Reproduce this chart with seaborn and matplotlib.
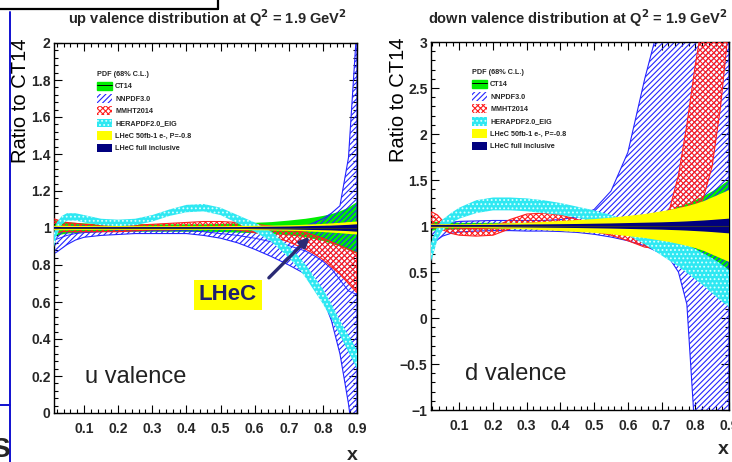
import matplotlib
matplotlib.use("Agg")
import matplotlib.pyplot as plt
from matplotlib.patches import Patch
from matplotlib.lines import Line2D
from matplotlib.ticker import MultipleLocator, FuncFormatter
import pandas as pd
import seaborn as sns

sns.set_theme(style="ticks")
plt.rcParams["font.family"] = ["Liberation Sans", "DejaVu Sans"]
plt.rcParams["hatch.linewidth"] = 0.8
plt.rcParams["axes.unicode_minus"] = True

# ---------------------------------------------------------------- data
X = [0.01, 0.02, 0.035, 0.05, 0.075, 0.1, 0.15, 0.2, 0.25, 0.3, 0.35, 0.4, 0.45,
     0.5, 0.55, 0.6, 0.65, 0.7, 0.725, 0.75, 0.775, 0.8, 0.825, 0.85, 0.875, 0.9]

# up valence, ratio to CT14
U_CT14_LO = [0.955, 0.96, 0.965, 0.97, 0.972, 0.975, 0.978, 0.98, 0.98, 0.98, 0.98, 0.98, 0.98,
             0.978, 0.975, 0.972, 0.968, 0.96, 0.955, 0.95, 0.94, 0.93, 0.915, 0.90, 0.88, 0.86]
U_CT14_HI = [1.045, 1.04, 1.035, 1.03, 1.028, 1.025, 1.022, 1.02, 1.02, 1.02, 1.02, 1.02, 1.02,
             1.022, 1.025, 1.028, 1.032, 1.04, 1.045, 1.05, 1.057, 1.065, 1.075, 1.09, 1.11, 1.14]
U_NNPDF_LO = [0.86, 0.87, 0.89, 0.91, 0.935, 0.95, 0.96, 0.965, 0.97, 0.97, 0.97, 0.97, 0.96,
              0.945, 0.92, 0.885, 0.845, 0.80, 0.775, 0.75, 0.70, 0.62, 0.50, 0.32, 0.05, -0.3]
U_NNPDF_HI = [1.0, 1.0, 1.01, 1.01, 1.01, 1.01, 1.005, 1.0, 1.0, 1.0, 1.0, 1.0, 1.0,
              1.0, 0.995, 0.99, 0.99, 0.995, 1.0, 1.01, 1.03, 1.05, 1.08, 1.12, 1.38, 2.1]
U_NNPDF_MID = [0.93, 0.94, 0.95, 0.96, 0.97, 0.975, 0.98, 0.985, 0.985, 0.985, 0.985, 0.985, 0.98,
               0.97, 0.96, 0.945, 0.925, 0.905, 0.89, 0.875, 0.85, 0.82, 0.78, 0.72, 0.66, 0.64]
U_MMHT_LO = [0.97, 0.975, 0.98, 0.98, 0.98, 0.98, 0.98, 0.98, 0.985, 0.99, 0.99, 0.995, 1.0,
             0.995, 0.99, 0.975, 0.955, 0.925, 0.905, 0.885, 0.86, 0.83, 0.79, 0.75, 0.70, 0.65]
U_MMHT_HI = [1.05, 1.045, 1.035, 1.03, 1.025, 1.02, 1.015, 1.015, 1.015, 1.02, 1.025, 1.03, 1.035,
             1.035, 1.03, 1.02, 1.01, 0.995, 0.985, 0.975, 0.96, 0.945, 0.925, 0.905, 0.885, 0.865]
U_HERA_LO = [0.88, 0.96, 1.02, 1.04, 1.04, 1.03, 1.015, 1.01, 1.015, 1.035, 1.065, 1.085, 1.09,
             1.07, 1.025, 0.98, 0.925, 0.84, 0.79, 0.73, 0.66, 0.59, 0.51, 0.42, 0.33, 0.24]
U_HERA_HI = [0.96, 1.03, 1.065, 1.08, 1.08, 1.07, 1.05, 1.045, 1.05, 1.07, 1.10, 1.125, 1.13,
             1.11, 1.07, 1.03, 0.98, 0.90, 0.855, 0.80, 0.735, 0.67, 0.59, 0.50, 0.42, 0.34]
U_LHEC50_LO = [0.988, 0.988, 0.988, 0.988, 0.989, 0.989, 0.99, 0.99, 0.99, 0.99, 0.99, 0.99, 0.99,
               0.99, 0.989, 0.988, 0.987, 0.985, 0.984, 0.982, 0.98, 0.978, 0.975, 0.972, 0.968, 0.965]
U_LHEC50_HI = [1.012, 1.012, 1.012, 1.012, 1.011, 1.011, 1.01, 1.01, 1.01, 1.01, 1.01, 1.01, 1.01,
               1.01, 1.011, 1.012, 1.013, 1.015, 1.016, 1.018, 1.02, 1.022, 1.025, 1.028, 1.032, 1.035]
U_FULL_LO = [0.994, 0.994, 0.995, 0.995, 0.995, 0.995, 0.995, 0.995, 0.995, 0.995, 0.995, 0.995, 0.995,
             0.995, 0.995, 0.994, 0.993, 0.992, 0.991, 0.99, 0.989, 0.988, 0.987, 0.985, 0.983, 0.98]
U_FULL_HI = [1.006, 1.006, 1.005, 1.005, 1.005, 1.005, 1.005, 1.005, 1.005, 1.005, 1.005, 1.005, 1.005,
             1.005, 1.005, 1.006, 1.007, 1.008, 1.009, 1.01, 1.011, 1.012, 1.013, 1.015, 1.017, 1.02]

# down valence, ratio to CT14
D_CT14_LO = [0.94, 0.95, 0.955, 0.96, 0.96, 0.965, 0.965, 0.965, 0.965, 0.965, 0.962, 0.96, 0.955,
             0.95, 0.94, 0.925, 0.905, 0.87, 0.83, 0.79, 0.76, 0.72, 0.675, 0.625, 0.565, 0.5]
D_CT14_HI = [1.06, 1.05, 1.045, 1.04, 1.04, 1.035, 1.035, 1.035, 1.035, 1.035, 1.038, 1.04, 1.045,
             1.05, 1.06, 1.075, 1.095, 1.13, 1.17, 1.21, 1.24, 1.28, 1.325, 1.375, 1.435, 1.5]
D_NNPDF_LO = [0.74, 0.78, 0.85, 0.89, 0.92, 0.935, 0.945, 0.95, 0.95, 0.945, 0.945, 0.94, 0.93,
              0.91, 0.88, 0.84, 0.785, 0.70, 0.64, 0.50, 0.15, -1.3, -2.5, -3.0, -3.0, -3.0]
D_NNPDF_HI = [1.0, 1.0, 1.02, 1.03, 1.04, 1.05, 1.055, 1.06, 1.06, 1.06, 1.06, 1.07, 1.1,
              1.18, 1.38, 1.8, 2.6, 3.3, 3.6, 4.0, 4.0, 4.0, 4.0, 4.0, 4.0, 4.0]
D_MMHT_LO = [0.97, 0.98, 0.98, 0.96, 0.92, 0.9, 0.89, 0.9, 0.97, 1.03, 1.04, 1.02, 0.98,
             0.94, 0.9, 0.84, 0.77, 0.75, 0.8, 0.9, 1.0, 1.1, 1.32, 1.65, 2.3, 3.2]
D_MMHT_HI = [1.15, 1.15, 1.12, 1.06, 1.0, 0.98, 0.97, 0.98, 1.07, 1.13, 1.14, 1.12, 1.07,
             1.03, 0.98, 0.94, 0.91, 1.0, 1.2, 1.55, 2.1, 2.75, 3.3, 3.8, 4.3, 4.8]
D_HERA_LO = [0.55, 0.66, 0.85, 0.95, 1.03, 1.08, 1.14, 1.17, 1.17, 1.16, 1.14, 1.12, 1.09,
             1.05, 0.97, 0.9, 0.8, 0.68, 0.62, 0.56, 0.49, 0.42, 0.35, 0.27, 0.19, 0.12]
D_HERA_HI = [0.75, 0.86, 1.0, 1.07, 1.14, 1.2, 1.28, 1.31, 1.31, 1.3, 1.28, 1.25, 1.21,
             1.17, 1.12, 1.06, 1.0, 0.92, 0.88, 0.84, 0.8, 0.75, 0.7, 0.65, 0.59, 0.52]
D_LHEC50_LO = [0.98, 0.98, 0.98, 0.98, 0.98, 0.98, 0.978, 0.975, 0.97, 0.965, 0.955, 0.945, 0.935,
               0.925, 0.91, 0.89, 0.87, 0.84, 0.825, 0.805, 0.785, 0.76, 0.73, 0.69, 0.65, 0.61]
D_LHEC50_HI = [1.02, 1.02, 1.02, 1.02, 1.02, 1.02, 1.022, 1.025, 1.03, 1.035, 1.045, 1.055, 1.065,
               1.075, 1.09, 1.11, 1.13, 1.16, 1.175, 1.195, 1.215, 1.24, 1.27, 1.31, 1.35, 1.39]
D_FULL_LO = [0.988, 0.988, 0.988, 0.988, 0.988, 0.988, 0.988, 0.988, 0.986, 0.984, 0.982, 0.98, 0.978,
             0.975, 0.972, 0.968, 0.964, 0.96, 0.957, 0.954, 0.95, 0.945, 0.94, 0.934, 0.927, 0.92]
D_FULL_HI = [1.012, 1.012, 1.012, 1.012, 1.012, 1.012, 1.012, 1.012, 1.014, 1.016, 1.018, 1.02, 1.022,
             1.025, 1.028, 1.032, 1.036, 1.04, 1.043, 1.046, 1.05, 1.055, 1.06, 1.066, 1.073, 1.08]

LABELS = ["CT14", "NNPDF3.0", "MMHT2014", "HERAPDF2.0_EIG",
          "LHeC 50fb-1 e-, P=-0.8", "LHeC full inclusive"]
LEGEND_TITLE = "PDF (68% C.L.)"

# ---------------------------------------------------------------- styles
GREEN = "#00ee00"
BLUE = "#2424ff"
RED = "#ff2020"
CYAN = "#2ee8f2"
CYAN_DOT = "#d8ffff"
YELLOW = "#ffff00"
NAVY = "#00007f"
HATCH_NN = "//////"
HATCH_MM = "xxxxxx"
HATCH_HE = "...."

W, H = 732, 462
fig = plt.figure(figsize=(W / 100, H / 100), dpi=100)
fig.patch.set_facecolor("white")


def axes_px(left, top, right, bottom):
    return fig.add_axes([left / W, 1 - bottom / H, (right - left) / W, (bottom - top) / H])


def draw_bands(ax, ct, nn, mm, he, l50, full):
    ax.fill_between(X, ct[0], ct[1], facecolor=GREEN, edgecolor="none", zorder=1)
    ax.fill_between(X, nn[0], nn[1], facecolor="none", edgecolor=BLUE,
                    hatch=HATCH_NN, linewidth=0.8, zorder=2)
    ax.fill_between(X, mm[0], mm[1], facecolor="none", edgecolor=RED,
                    hatch=HATCH_MM, linewidth=0.8, zorder=3)
    ax.fill_between(X, he[0], he[1], facecolor=CYAN, edgecolor=CYAN_DOT,
                    hatch=HATCH_HE, linewidth=0, zorder=4)
    ax.fill_between(X, l50[0], l50[1], facecolor=YELLOW, edgecolor="none", zorder=5)
    ax.fill_between(X, full[0], full[1], facecolor=NAVY, edgecolor="none", zorder=6)
    ax.axhline(1.0, color="#333333", lw=0.8, zorder=7)


def style_axes(ax, xlim, ylim, ymajor, yminor, label_x, ypad):
    ax.set_xlim(*xlim)
    ax.set_ylim(*ylim)
    ax.xaxis.set_major_locator(MultipleLocator(0.1))
    ax.xaxis.set_minor_locator(MultipleLocator(0.02))
    ax.yaxis.set_major_locator(MultipleLocator(ymajor))
    ax.yaxis.set_minor_locator(MultipleLocator(yminor))
    fmt = FuncFormatter(lambda v, p: f"{v:g}".replace("-", "\u2212"))
    ax.xaxis.set_major_formatter(fmt)
    ax.yaxis.set_major_formatter(fmt)
    ax.tick_params(which="both", direction="in", top=True, right=True,
                   color="black", width=0.8)
    ax.tick_params(which="major", length=6)
    ax.tick_params(which="minor", length=3)
    ax.tick_params(axis="x", pad=6.5, labelsize=10)
    ax.tick_params(axis="y", pad=ypad, labelsize=10)
    for lab in ax.get_xticklabels() + ax.get_yticklabels():
        lab.set_fontweight("bold")
    for sp in ax.spines.values():
        sp.set_color("black")
        sp.set_linewidth(1.0)
    ax.set_xlabel("")
    ax.set_ylabel("Ratio to CT14", fontsize=14.5, loc="top", color="black")
    ax.yaxis.set_label_coords(label_x, 1.012)
    ax.set_facecolor("white")


def add_legend(ax, anchor):
    handles = [
        (Patch(facecolor=GREEN, edgecolor=GREEN), Line2D([], [], color="black", lw=0.7)),
        Patch(facecolor="none", edgecolor=BLUE, hatch=HATCH_NN, linewidth=0),
        Patch(facecolor="none", edgecolor=RED, hatch=HATCH_MM, linewidth=0),
        Patch(facecolor=CYAN, edgecolor=CYAN_DOT, hatch=HATCH_HE, linewidth=0),
        Patch(facecolor=YELLOW, edgecolor="none"),
        Patch(facecolor=NAVY, edgecolor="none"),
    ]
    leg = ax.legend(handles, LABELS, title=LEGEND_TITLE, loc="upper left",
                    bbox_to_anchor=anchor, frameon=False, borderpad=0, borderaxespad=0,
                    prop={"size": 5.2, "weight": "bold"},
                    title_fontproperties={"size": 5.2, "weight": "bold"},
                    handlelength=2.1, handleheight=1.45, labelspacing=0.52, handletextpad=0.4,
                    alignment="left")
    leg.set_zorder(10)


# ---------------------------------------------------------------- up valence
ax_u = axes_px(54, 43, 357, 413)
draw_bands(ax_u, (U_CT14_LO, U_CT14_HI), (U_NNPDF_LO, U_NNPDF_HI), (U_MMHT_LO, U_MMHT_HI),
           (U_HERA_LO, U_HERA_HI), (U_LHEC50_LO, U_LHEC50_HI), (U_FULL_LO, U_FULL_HI))
sns.lineplot(data=pd.DataFrame({"x": X, "r": U_NNPDF_MID}), x="x", y="r", ax=ax_u,
             color=BLUE, lw=0.7, zorder=2.5)
style_axes(ax_u, (0.012, 0.9), (0.0, 2.0), 0.2, 0.04, -0.08, 2.5)
add_legend(ax_u, (0.142, 0.925))
ax_u.text(0.522, 0.638, "LHeC", fontsize=16, fontweight="bold", color="#1e1e6e",
          ha="center", va="center", zorder=12,
          bbox=dict(boxstyle="square,pad=0.22", facecolor=YELLOW, edgecolor="none"))
ax_u.annotate("", xy=(0.767, 0.962), xytext=(0.636, 0.72),
              arrowprops=dict(arrowstyle="-|>", color="#2a2a74", lw=2.4, mutation_scale=14),
              zorder=12)

# ---------------------------------------------------------------- down valence
ax_d = axes_px(431, 42, 729, 410)
draw_bands(ax_d, (D_CT14_LO, D_CT14_HI), (D_NNPDF_LO, D_NNPDF_HI), (D_MMHT_LO, D_MMHT_HI),
           (D_HERA_LO, D_HERA_HI), (D_LHEC50_LO, D_LHEC50_HI), (D_FULL_LO, D_FULL_HI))
style_axes(ax_d, (0.016, 0.9), (-1.0, 3.0), 0.5, 0.1, -0.076, 2.5)
add_legend(ax_d, (0.138, 0.927))

# ---------------------------------------------------------------- figure text
def fig_text(x, y, s, **kw):
    fig.text(x / W, 1 - y / H, s, **kw)


fig_text(207, 18, r"up valence distribution at Q$^{\mathbf{2}}$ = 1.9 GeV$^{\mathbf{2}}$",
         fontsize=10.5, fontweight="bold", ha="center", va="center")
fig_text(578, 18, r"down valence distribution at Q$^{\mathbf{2}}$ = 1.9 GeV$^{\mathbf{2}}$",
         fontsize=10.5, fontweight="bold", ha="center", va="center")
fig_text(85, 383, "u valence", fontsize=17, color="#222222", ha="left", va="baseline")
fig_text(465, 380, "d valence", fontsize=17, color="#222222", ha="left", va="baseline")
fig_text(352, 455, "x", fontsize=14, fontweight="bold", ha="center", va="center")
fig_text(723, 449, "x", fontsize=14, fontweight="bold", ha="center", va="center")

# slide frame pieces around the plots
fig.add_artist(Line2D([0, 218 / W], [1 - 9 / H, 1 - 9 / H], color="black", lw=1.6,
                      transform=fig.transFigure))
fig.add_artist(Line2D([218 / W, 218 / W], [1, 1 - 9 / H], color="black", lw=1.6,
                      transform=fig.transFigure))
fig.add_artist(Line2D([10 / W, 10 / W], [1 - 12 / H, 0], color="#1010d0", lw=1.4,
                      transform=fig.transFigure))
fig.add_artist(Line2D([0, 10 / W], [1 - 405 / H, 1 - 405 / H], color="#1010d0", lw=1.4,
                      transform=fig.transFigure))
fig_text(10, 437, "S", fontsize=20, fontweight="bold", ha="right", va="top")

fig.savefig("out.png", dpi=100, facecolor="white")
